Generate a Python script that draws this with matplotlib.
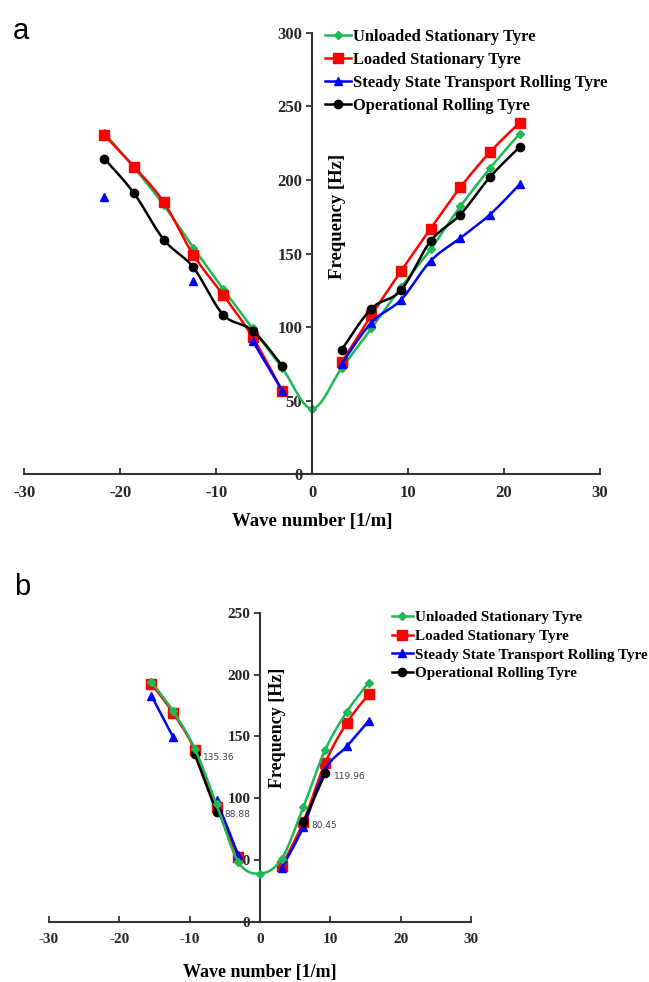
import numpy as np
import matplotlib
matplotlib.use("Agg")
import matplotlib.pyplot as plt
from matplotlib.lines import Line2D

plt.rcParams["axes.unicode_minus"] = False

# wave numbers [1/m]
k_a = [-21.63, -18.54, -15.45, -12.36, -9.27, -6.18, -3.09, 0.0,
       3.09, 6.18, 9.27, 12.36, 15.45, 18.54, 21.63]
k_b = [-15.45, -12.36, -9.27, -6.18, -3.09, 0.0, 3.09, 6.18, 9.27, 12.36, 15.45]

nan = np.nan

# panel a frequencies [Hz]
unloaded_a = [232, 208.5, 183, 154, 126, 99, 72, 44.5, 72, 99, 127, 153, 182, 208, 231.5]
loaded_a = [230.5, 209, 185, 149, 122, 93, 56.5, nan, 76, 108, 138, 167, 195, 219, 239]
steady_a = [188.5, nan, nan, 131.5, nan, 90.5, 56.5, nan, 75, 103, 118.5, 145, 160.5, 176.5, 197]
operational_a = [214.5, 191, 159.5, 140.5, 108.5, 97.5, 73.5, nan,
                 84.5, 112.5, 125, 158.5, 176.5, 202, 222.5]

# panel b frequencies [Hz]
unloaded_b = [194, 170.5, 140, 95, 48.5, 39, 51, 93, 139, 170, 193.5]
loaded_b = [192.5, 169, 139, 93, 52, nan, 45, 81, 128.5, 161, 184]
steady_b = [183, 149.5, nan, 98.5, 54, nan, 43.2, 77, 123, 142, 162.5]
operational_b = [nan, nan, 135.36, 88.88, nan, nan, nan, 80.45, 119.96, nan, nan]

labels = ["Unloaded Stationary Tyre", "Loaded Stationary Tyre",
          "Steady State Transport Rolling Tyre", "Operational Rolling Tyre"]
colors = ["#1DB954", "#FF0000", "#0000FF", "#000000"]
markers = ["D", "s", "^", "o"]
msizes = [4.5, 6.5, 6, 6]

SERIF = "Liberation Serif"


def smooth(x, y, n=24):
    # excel style smoothed line, split at gaps
    x = np.asarray(x, float)
    y = np.asarray(y, float)
    ok = ~np.isnan(y)
    segs = []
    i = 0
    while i < len(y):
        if not ok[i]:
            i += 1
            continue
        j = i
        while j < len(y) and ok[j]:
            j += 1
        P = np.column_stack([x[i:j], y[i:j]])
        m = len(P)
        if m > 1:
            xs, ys = [], []
            t = np.linspace(0, 1, n)[:, None]
            for s in range(m - 1):
                p0 = P[s - 1] if s > 0 else P[s]
                p1 = P[s]
                p2 = P[s + 1]
                p3 = P[s + 2] if s + 2 < m else P[s + 1]
                c1 = p1 + (p2 - p0) / 6
                c2 = p2 - (p3 - p1) / 6
                b = ((1 - t) ** 3) * p1 + 3 * ((1 - t) ** 2) * t * c1 \
                    + 3 * (1 - t) * t ** 2 * c2 + t ** 3 * p2
                xs.append(b[:, 0])
                ys.append(b[:, 1])
            segs.append((np.concatenate(xs), np.concatenate(ys)))
        i = j
    return segs


def draw(ax, k, series, zorders, ymax, fs_tick):
    for idx, vals in enumerate(series):
        z = zorders[idx]
        for sx, sy in smooth(k, vals):
            ax.plot(sx, sy, color=colors[idx], lw=1.8, zorder=z, solid_capstyle="round")
        ax.plot(k, vals, ls="none", marker=markers[idx], ms=msizes[idx],
                color=colors[idx], zorder=z + 0.5)

    ax.set_xlim(-30, 30)
    ax.set_ylim(0, ymax)
    ax.set_xticks(np.arange(-30, 31, 10))
    ax.set_yticks(np.arange(0, ymax + 1, 50))
    ax.spines["left"].set_position(("data", 0))
    ax.spines["bottom"].set_position(("data", 0))
    ax.spines["top"].set_visible(False)
    ax.spines["right"].set_visible(False)
    for sp in ("left", "bottom"):
        ax.spines[sp].set_color("#333333")
        ax.spines[sp].set_linewidth(1.5)
    ax.tick_params(axis="x", direction="in", length=4, width=1.3, color="#333333",
                   pad=8, labelsize=fs_tick)
    ax.tick_params(axis="y", direction="out", length=4, width=1.3, color="#333333",
                   pad=3, labelsize=fs_tick)
    for lab in ax.get_xticklabels() + ax.get_yticklabels():
        lab.set_fontfamily(SERIF)
        lab.set_fontweight("bold")
        lab.set_color("#262626")
    ax.patch.set_alpha(0)


def legend(fig, anchor, fs, spacing, hlen):
    handles = [Line2D([], [], color=colors[i], lw=1.8, marker=markers[i], ms=msizes[i])
               for i in range(4)]
    fig.legend(handles, labels, loc="upper left", bbox_to_anchor=anchor, frameon=False,
               prop={"family": SERIF, "weight": "bold", "size": fs},
               handlelength=hlen, handletextpad=0.15, labelspacing=spacing,
               borderpad=0, borderaxespad=0)


fig = plt.figure(figsize=(6.49, 9.82), dpi=100)

# panel a
ax1 = fig.add_axes([0.037, 0.5173, 0.8875, 0.4491])
draw(ax1, k_a, [unloaded_a, loaded_a, steady_a, operational_a], [2, 3, 4, 5], 300, 12)
ax1.set_xlabel("Wave number [1/m]", fontfamily=SERIF, fontweight="bold", fontsize=13.5)
ax1.xaxis.set_label_coords(0.5, -0.088)
ax1.set_ylabel("Frequency [Hz]", fontfamily=SERIF, fontweight="bold", fontsize=13.5, va="center")
ax1.yaxis.set_label_coords(0.5434, 0.583)
legend(fig, (0.5008, 0.9705), 11.9, 0.42, 1.55)
fig.text(0.019, 0.983, "a", fontfamily="Liberation Sans", fontsize=21, va="top", ha="left")

# panel b
ax2 = fig.add_axes([0.0755, 0.0614, 0.6502, 0.3146])
draw(ax2, k_b, [unloaded_b, loaded_b, steady_b, operational_b], [6, 3, 4, 5], 250, 11)
ax2.set_xlabel("Wave number [1/m]", fontfamily=SERIF, fontweight="bold", fontsize=13)
ax2.xaxis.set_label_coords(0.5, -0.137)
ax2.set_ylabel("Frequency [Hz]", fontfamily=SERIF, fontweight="bold", fontsize=13, va="center")
ax2.yaxis.set_label_coords(0.542, 0.627)
legend(fig, (0.6036, 0.3779), 10.9, 0.33, 1.4)
fig.text(0.022, 0.417, "b", fontfamily="Liberation Sans", fontsize=21, va="top", ha="left")

# value labels on the operational rolling tyre points
for kx, fv in zip(k_b, operational_b):
    if not np.isnan(fv):
        ax2.annotate(f"{fv:.2f}", (kx, fv), xytext=(6, -2), textcoords="offset points",
                     fontsize=6.5, color="#404050", va="center", ha="left",
                     fontfamily="DejaVu Sans")

fig.savefig("out.png", dpi=100)
